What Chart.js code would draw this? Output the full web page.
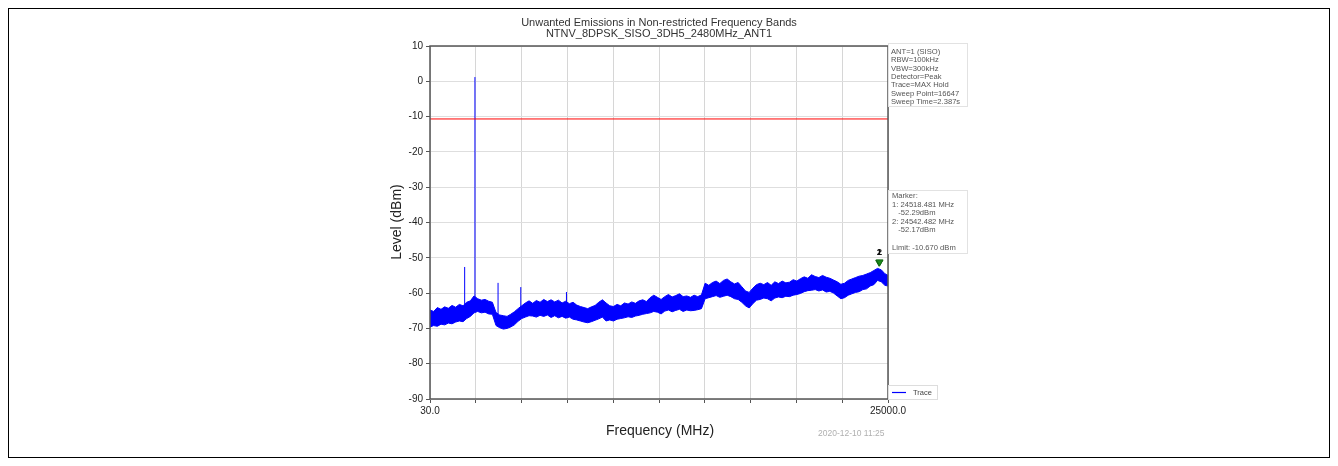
<!DOCTYPE html>
<html><head><meta charset="utf-8">
<script src="https://cdn.jsdelivr.net/npm/chart.js@4.4.0/dist/chart.umd.min.js"></script>
<style>html,body{margin:0;padding:0;background:#fff;}#wrap{position:relative;width:1338px;height:466px;}canvas{display:block}</style>
</head><body><div id="wrap"><canvas id="c" width="1338" height="466"></canvas></div>
<script>
const titleLines = ['Unwanted Emissions in Non-restricted Frequency Bands', 'NTNV_8DPSK_SISO_3DH5_2480MHz_ANT1'];
const xAxisTitle = 'Frequency (MHz)';
const yAxisTitle = 'Level (dBm)';
const timestampText = '2020-12-10 11:25';
const infoLines = ['ANT=1 (SISO)', 'RBW=100kHz', 'VBW=300kHz', 'Detector=Peak', 'Trace=MAX Hold', 'Sweep Point=16647', 'Sweep Time=2.387s'];
const markerLines = ['Marker:', '1: 24518.481 MHz', '   -52.29dBm', '2: 24542.482 MHz', '   -52.17dBm', '', 'Limit: -10.670 dBm'];
const legendLabel = 'Trace';

const xMin = 30, xMax = 25000, yMin = -90, yMax = 10;
const xTickLabels = ['30.0', '', '', '', '', '', '', '', '', '', '25000.0'];
const yTickValues = [10, 0, -10, -20, -30, -40, -50, -60, -70, -80, -90];

const freqMHz = [30,230,430,630,830,1030,1230,1430,1630,1830,
2030,2230,2430,2630,2830,3030,3230,3430,3630,3830,
4030,4230,4430,4630,4830,5030,5230,5430,5630,5830,
6030,6230,6430,6630,6830,7030,7230,7430,7630,7830,
8030,8230,8430,8630,8830,9030,9230,9430,9630,9830,
10030,10230,10430,10630,10830,11030,11230,11430,11630,11830,
12030,12230,12430,12630,12830,13030,13230,13430,13630,13830,
14030,14230,14430,14630,14830,15030,15230,15430,15630,15830,
16030,16230,16430,16630,16830,17030,17230,17430,17630,17830,
18030,18230,18430,18630,18830,19030,19230,19430,19630,19830,
20030,20230,20430,20630,20830,21030,21230,21430,21630,21830,
22030,22230,22430,22630,22830,23030,23230,23430,23630,23830,
24030,24230,24430,24630,24830,25000];
const peakDbm = [-64.8,-65.2,-64.1,-64.6,-63.9,-64.3,-63.5,-64.0,-63.2,-63.6,
-62.6,-62.2,-60.8,-61.6,-62.0,-61.8,-62.3,-62.6,-65.5,-66.2,
-66.4,-66.6,-66.0,-65.3,-64.4,-63.6,-62.8,-62.2,-62.9,-62.1,
-62.6,-61.8,-62.4,-61.9,-62.5,-62.0,-62.8,-62.3,-63.0,-62.6,
-63.4,-63.8,-64.1,-64.4,-63.9,-63.5,-62.6,-61.9,-62.8,-63.6,
-63.8,-63.2,-63.6,-62.8,-63.1,-62.5,-62.9,-62.2,-61.9,-62.4,
-61.3,-60.6,-61.2,-61.8,-61.0,-60.4,-61.1,-60.7,-60.2,-61.0,
-60.8,-61.2,-60.6,-61.0,-60.5,-57.2,-57.8,-57.0,-56.6,-57.3,
-56.4,-56.0,-56.8,-57.4,-57.0,-58.2,-59.4,-59.8,-58.6,-57.6,
-57.2,-57.6,-57.0,-57.8,-56.8,-57.3,-56.6,-57.1,-56.9,-56.2,
-56.6,-55.9,-55.4,-55.8,-54.8,-55.3,-55.6,-55.0,-55.5,-55.8,
-56.3,-56.8,-57.5,-57.2,-56.4,-56.0,-55.6,-55.2,-55.0,-54.6,
-54.2,-53.6,-53.0,-53.4,-54.5,-55.0];
const floorDbm = [-69.6,-69.2,-69.4,-68.8,-69.0,-68.5,-68.7,-68.2,-67.9,-68.1,
-67.2,-66.6,-65.6,-65.2,-65.6,-65.4,-65.9,-66.0,-69.2,-69.8,
-70.2,-70.0,-69.6,-69.0,-68.0,-67.2,-66.8,-66.4,-66.5,-66.8,
-66.3,-66.6,-66.2,-66.9,-66.4,-67.0,-66.6,-67.1,-66.8,-67.4,
-67.6,-67.9,-68.2,-68.4,-68.1,-67.7,-67.3,-66.8,-67.9,-67.6,
-67.9,-67.4,-67.2,-67.0,-66.7,-66.9,-66.5,-66.3,-66.0,-65.8,
-65.6,-65.2,-65.4,-65.9,-65.1,-64.8,-65.3,-64.9,-64.6,-65.2,
-64.8,-65.0,-64.9,-64.7,-64.4,-61.6,-61.3,-61.0,-60.7,-61.2,
-60.9,-60.6,-61.0,-61.6,-61.8,-62.6,-63.6,-64.2,-63.0,-62.0,
-61.8,-61.4,-61.6,-62.2,-61.4,-61.1,-61.3,-60.9,-61.0,-60.6,
-60.4,-60.1,-59.6,-59.3,-59.2,-59.0,-59.4,-59.1,-59.7,-59.5,
-60.0,-60.8,-61.6,-61.3,-60.6,-60.2,-59.8,-59.6,-59.0,-58.8,
-58.0,-57.6,-56.4,-56.8,-57.8,-58.0];
const spurFreqMHz = [1920, 2480, 3740, 4980, 7470];
const spurDbm = [-52.6, 1.2, -57.1, -58.3, -59.7];
const spurBaseDbm = [-64.0, -63.0, -66.0, -65.0, -64.5];
const limitDbm = -10.67;
const markerFreqMHz = [24518.481, 24542.482];
const markerDbm = [-52.29, -52.17];
const markerNames = ['1', '2'];

const peakPts = freqMHz.map((f, i) => ({x: f, y: peakDbm[i]}));
const floorPts = freqMHz.map((f, i) => ({x: f, y: floorDbm[i]}));
const spurPts = [];
for (let k = 0; k < spurFreqMHz.length; k++) {
  spurPts.push({x: spurFreqMHz[k], y: spurBaseDbm[k]}, {x: spurFreqMHz[k], y: spurDbm[k]}, {x: spurFreqMHz[k], y: null});
}

const FONT = '"Liberation Sans", Arial, sans-serif';

const decor = {
  id: 'decor',
  afterDraw(chart) {
    const ctx = chart.ctx, a = chart.chartArea;
    const xs = chart.scales.x, ys = chart.scales.y;
    ctx.save();
    ctx.strokeStyle = '#000'; ctx.lineWidth = 1;
    ctx.strokeRect(8.5, 8.5, 1321, 449);
    ctx.strokeStyle = '#555'; ctx.lineWidth = 1.5;
    ctx.strokeRect(a.left, a.top, a.right - a.left, a.bottom - a.top);
    ctx.fillStyle = '#333'; ctx.font = '11px ' + FONT; ctx.textAlign = 'center'; ctx.textBaseline = 'middle';
    ctx.fillText(titleLines[0], 659, 23);
    ctx.fillText(titleLines[1], 659, 34);
    ctx.fillStyle = '#222'; ctx.font = '14px ' + FONT;
    ctx.fillText(xAxisTitle, 660, 431);
    ctx.save(); ctx.translate(397, 222); ctx.rotate(-Math.PI / 2); ctx.fillText(yAxisTitle, 0, 0); ctx.restore();
    ctx.fillStyle = '#b0b0b0'; ctx.font = '8.5px ' + FONT; ctx.textAlign = 'left';
    ctx.fillText(timestampText, 818, 434);
    ctx.strokeStyle = '#e2e2e2'; ctx.lineWidth = 1;
    ctx.strokeRect(888.5, 43.5, 79, 63);
    ctx.fillStyle = '#555'; ctx.font = '7.6px ' + FONT; ctx.textAlign = 'left';
    infoLines.forEach((t, i) => ctx.fillText(t, 891, 51.7 + i * 8.4));
    ctx.strokeRect(888.5, 190.5, 79, 63);
    markerLines.forEach((t, i) => ctx.fillText(t, 892, 196 + i * 8.6));
    ctx.strokeStyle = '#ddd'; ctx.strokeRect(888.5, 385.5, 49, 14);
    ctx.strokeStyle = '#0000ff'; ctx.lineWidth = 1.2;
    ctx.beginPath(); ctx.moveTo(892, 392.5); ctx.lineTo(906, 392.5); ctx.stroke();
    ctx.fillStyle = '#444'; ctx.font = '7.5px ' + FONT;
    ctx.fillText(legendLabel, 913, 393);
    ctx.fillStyle = '#111'; ctx.font = 'bold 9px ' + FONT; ctx.textAlign = 'center';
    for (let k = 0; k < markerFreqMHz.length; k++) {
      ctx.fillText(markerNames[k], xs.getPixelForValue(markerFreqMHz[k]), ys.getPixelForValue(markerDbm[k]) - 13);
    }
    ctx.restore();
  }
};

new Chart(document.getElementById('c'), {
  type: 'scatter',
  data: {
    datasets: [
      {label: 'Limit', data: [{x: xMin, y: limitDbm}, {x: xMax, y: limitDbm}], showLine: true, borderColor: '#ff0000', borderWidth: 1, pointRadius: 0},
      {label: legendLabel, data: peakPts, showLine: true, borderColor: '#0000ff', borderWidth: 1, pointRadius: 0, tension: 0, fill: '+1', backgroundColor: '#0000ff'},
      {label: legendLabel + ' floor', data: floorPts, showLine: true, borderColor: '#0000ff', borderWidth: 1, pointRadius: 0, tension: 0},
      {label: legendLabel + ' spurs', data: spurPts, showLine: true, spanGaps: false, borderColor: '#0000ff', borderWidth: 1, pointRadius: 0},
      {label: 'Markers', data: markerFreqMHz.map((f, k) => ({x: f, y: markerDbm[k] + 1.0})), showLine: false, pointStyle: 'triangle', rotation: 180, pointRadius: 4, backgroundColor: '#1a8a1a', borderColor: '#116611', borderWidth: 1}
    ]
  },
  options: {
    responsive: false, animation: false, events: [],
    layout: {padding: {left: 0, right: 450, top: 46, bottom: 47}},
    plugins: {legend: {display: false}, tooltip: {enabled: false}, filler: {propagate: false}},
    scales: {
      x: {
        type: 'linear', min: xMin, max: xMax,
        afterFit(s) { s.height = 20; },
        afterBuildTicks(s) { s.ticks = xTickLabels.map((_, k) => ({value: xMin + k * (xMax - xMin) / (xTickLabels.length - 1)})); },
        ticks: {autoSkip: false, maxRotation: 0, padding: 2, color: '#222', font: {family: FONT, size: 10},
          callback(v, i) { return xTickLabels[i]; }},
        grid: {color: '#d6d6d6', lineWidth: 1, borderDash: [3, 2], drawTicks: true, tickLength: 4, tickColor: '#555', tickBorderDash: []},
        border: {display: false}
      },
      y: {
        min: yMin, max: yMax,
        afterFit(s) { s.width = 430; },
        afterBuildTicks(s) { s.ticks = yTickValues.map(v => ({value: v})); },
        ticks: {autoSkip: false, padding: 3, color: '#222', font: {family: FONT, size: 10}},
        grid: {color: '#dedede', lineWidth: 1, borderDash: [3, 2], drawTicks: true, tickLength: 4, tickColor: '#555', tickBorderDash: []},
        border: {display: false}
      }
    }
  },
  plugins: [decor]
});
</script></body></html>
